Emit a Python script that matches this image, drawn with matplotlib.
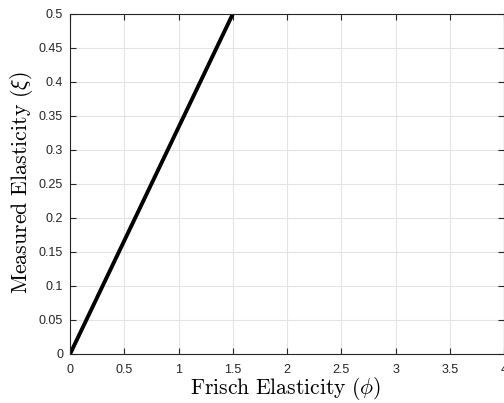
import numpy as np
import matplotlib.pyplot as plt

plt.rcParams['mathtext.fontset'] = 'cm'
plt.rcParams['font.family'] = ['Liberation Sans', 'DejaVu Sans']

# Frisch elasticity vs measured elasticity
phi = [0.0, 1.5, 4.0]
xi = [0.0, 0.5, 4.0 / 3]

xticks = [0, 0.5, 1, 1.5, 2, 2.5, 3, 3.5, 4]
yticks = [0, 0.05, 0.1, 0.15, 0.2, 0.25, 0.3, 0.35, 0.4, 0.45, 0.5]

fig = plt.figure(figsize=(5.04, 4.03), dpi=100)
ax = fig.add_axes([0.139, 0.1216, 0.861, 0.8437])

ax.plot(phi, xi, color='black', linewidth=2.8)
ax.set_xlim(0, 4)
ax.set_ylim(0, 0.5)
ax.set_xticks(xticks)
ax.set_xticklabels(['0', '0.5', '1', '1.5', '2', '2.5', '3', '3.5', '4'])
ax.set_yticks(yticks)
ax.set_yticklabels(['0', '0.05', '0.1', '0.15', '0.2', '0.25', '0.3', '0.35', '0.4', '0.45', '0.5'])
ax.grid(True, color='#e3e3e3', linewidth=0.8)
ax.set_axisbelow(True)
for s in ax.spines.values():
    s.set_color('#262626')
    s.set_linewidth(0.8)
ax.tick_params(direction='in', top=True, right=True, labelsize=9, colors='#262626',
               length=4, width=0.8)
ax.tick_params(axis='x', pad=7)
ax.tick_params(axis='y', pad=5)

ax.set_xlabel(r'$\mathrm{Frisch\ Elasticity\ }(\phi)$', fontsize=15.6)
ax.set_ylabel(r'$\mathrm{Measured\ Elasticity\ }(\xi)$', fontsize=15.8)
ax.xaxis.label.set_verticalalignment('center')
ax.xaxis.set_label_coords(286 / 504, 1 - 389 / 403, transform=fig.transFigure)
ax.yaxis.label.set_verticalalignment('center')
ax.yaxis.set_label_coords(22 / 504, 1 - 183 / 403, transform=fig.transFigure)

fig.savefig('out.png', dpi=100)
